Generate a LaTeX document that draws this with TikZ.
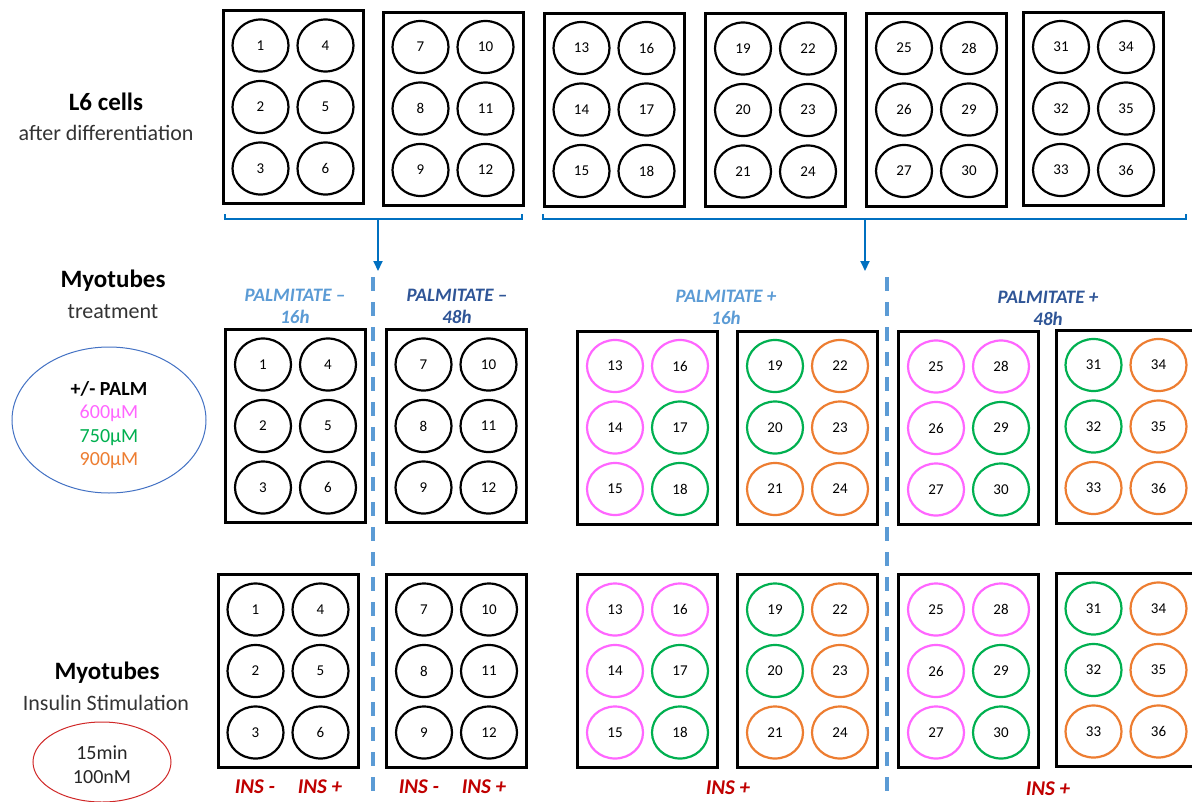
\documentclass[tikz,border=0pt]{standalone}
\usepackage{fontspec}
\setmainfont{Carlito}
\usetikzlibrary{shapes.geometric,arrows.meta}
\definecolor{wpink}{HTML}{FF66FF}
\definecolor{wgreen}{HTML}{00B050}
\definecolor{worange}{HTML}{ED7D31}
\definecolor{lblue}{HTML}{5B9BD5}
\definecolor{dkblue}{HTML}{2F5597}
\definecolor{bblue}{HTML}{0070C0}
\definecolor{eblue}{HTML}{4472C4}
\definecolor{insred}{HTML}{C00000}
\definecolor{ered}{HTML}{D02828}
\newcommand\wellplate[5]{%
  \node[plate] (#1) at (#2,#3) {};
  \foreach \cc [count=\i from 0] in #5 {
    \pgfmathtruncatemacro\wc{int(\i/3)}
    \pgfmathtruncatemacro\wr{\i-3*\wc}
    \pgfmathtruncatemacro\wn{#4+\i}
    \node[well, draw=\cc] (#1-\wn) at ({#2+(\wc-0.5)*65},{#3+(\wr-1)*61.5}) {\wn};
  }
}
\def\K{black,black,black,black,black,black}
\def\SA{wpink,wpink,wpink,wpink,wgreen,wgreen}
\def\SB{wgreen,wgreen,worange,worange,worange,worange}
\begin{document}
\begin{tikzpicture}[x=1pt,y=-1pt,
  plate/.style={draw, line width=3pt, minimum width=140pt, minimum height=193pt, inner sep=0pt},
  well/.style={ellipse, line width=2.2pt, minimum width=56pt, minimum height=52pt, inner sep=0pt, font=\fontsize{15}{17}\selectfont},
  head/.style={font=\fontsize{25}{30}\selectfont\bfseries},
  sub/.style={font=\fontsize{22}{26}\selectfont, text=black!80},
  palm/.style={font=\fontsize{19}{22}\selectfont\bfseries\itshape, align=center},
  ins/.style={font=\fontsize{21}{25}\selectfont\bfseries\itshape, text=insred},
  bracket/.style={draw=bblue, line width=2pt},
  flow/.style={draw=bblue, line width=2pt, -{Triangle[length=10pt,width=9pt]}},
  divider/.style={draw=lblue, line width=3.2pt, dash pattern=on 14pt off 11pt}]
\useasboundingbox (0,0) rectangle (1192,801);
\clip (0,0) rectangle (1192,801);
\fill[white] (0,0) rectangle (1192,801);

% left labels
\node[head] (l6) at (106,102) {L6 cells};
\node[sub] (l6s) at (106,133) {after differentiation};
\node[head] (myo1) at (113,281) {Myotubes};
\node[sub] (myo1s) at (113,312) {treatment};
\node[ellipse, draw=eblue, line width=1pt, minimum width=194pt, minimum height=146pt] (legend) at (109,420) {};
\node[font=\fontsize{20}{23.3}\selectfont, align=center] (legendtext) at (109,425)
  {\textbf{+/- PALM}\\ \textcolor{wpink}{600µM}\\ \textcolor{wgreen}{750µM}\\ \textcolor{worange}{900µM}};
\node[head] (myo2) at (107,673) {Myotubes};
\node[sub] (myo2s) at (106,703) {Insulin Stimulation};
\node[ellipse, draw=ered, line width=1pt, minimum width=138pt, minimum height=80pt] (insell) at (102,762) {};
\node[font=\fontsize{20}{24}\selectfont, align=center, text=black!85] (instext) at (102,765) {15min\\100nM};

% row 1
\wellplate{a1}{293}{107}{1}{\K}
\wellplate{a2}{453}{108.5}{7}{\K}
\wellplate{a3}{614}{109.5}{13}{\K}
\wellplate{a4}{775.5}{110}{19}{\K}
\wellplate{a5}{936.5}{109.5}{25}{\K}
\wellplate{a6}{1093.5}{108.5}{31}{\K}

% brackets and arrows
\coordinate (b1l) at (225,214);
\coordinate (b1r) at (522,214);
\coordinate (b2l) at (543,214);
\coordinate (b2r) at (1186,214);
\draw[bracket] (b1l) |- (378,219) -| (b1r);
\draw[bracket] (b2l) |- (865,219) -| (b2r);
\coordinate (f1s) at (378,219);
\coordinate (f1e) at (378,271);
\coordinate (f2s) at (865,219);
\coordinate (f2e) at (865,271);
\draw[flow] (f1s) -- (f1e);
\draw[flow] (f2s) -- (f2e);

% dividers
\coordinate (d1t) at (373,277);
\coordinate (d1b) at (373,805);
\coordinate (d2t) at (887,277);
\coordinate (d2b) at (887,805);
\draw[divider] (d1t) -- (d1b);
\draw[divider] (d2t) -- (d2b);

% palmitate labels
\node[palm, text=lblue] (pm16) at (295,306) {PALMITATE –\\16h};
\node[palm, text=dkblue] (pm48) at (457,306) {PALMITATE –\\48h};
\node[palm, text=lblue] (pp16) at (726,307) {PALMITATE +\\16h};
\node[palm, text=dkblue] (pp48) at (1048,308.5) {PALMITATE +\\48h};

% row 2
\wellplate{b1}{295.5}{426}{1}{\K}
\wellplate{b2}{456}{426}{7}{\K}
\wellplate{b3}{647.5}{427.5}{13}{\SA}
\wellplate{b4}{807.5}{427.5}{19}{\SB}
\wellplate{b5}{968.5}{428}{25}{\SA}
\wellplate{b6}{1126}{426.5}{31}{\SB}

% row 3
\wellplate{c1}{288}{671}{1}{\K}
\wellplate{c2}{456.5}{671}{7}{\K}
\wellplate{c3}{647.5}{671}{13}{\SA}
\wellplate{c4}{807.5}{671}{19}{\SB}
\wellplate{c5}{968.5}{671}{25}{\SA}
\wellplate{c6}{1126}{670}{31}{\SB}

% insulin labels
\node[ins] (i1) at (255,787) {INS -};
\node[ins] (i2) at (320,787) {INS +};
\node[ins] (i3) at (419,787) {INS -};
\node[ins] (i4) at (484,787) {INS +};
\node[ins] (i5) at (728,788) {INS +};
\node[ins] (i6) at (1048,789) {INS +};
\end{tikzpicture}
\end{document}
